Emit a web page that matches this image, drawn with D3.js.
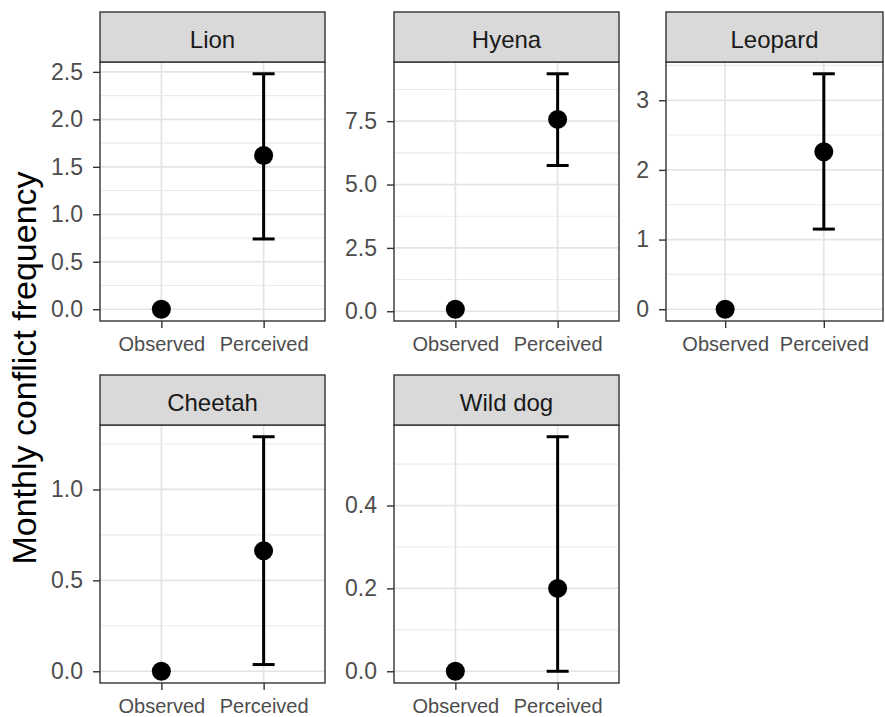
<!DOCTYPE html>
<html>
<head>
<meta charset="utf-8">
<script src="https://cdn.jsdelivr.net/npm/d3@7"></script>
<style>
  html, body { margin: 0; padding: 0; background: #fff; }
  svg { display: block; font-family: "Liberation Sans", Arial, Helvetica, sans-serif; }
</style>
</head>
<body>
<svg id="chart" width="885" height="717"></svg>
<script>
// ---- data ----
const panels = ["Lion", "Hyena", "Leopard", "Cheetah", "Wild dog"];
const categories = ["Observed", "Perceived"];
const observedValues = [0, 0.08, 0, 0, 0];
const perceivedValues = [1.62, 7.57, 2.26, 0.663, 0.2];
const perceivedLower = [0.74, 5.75, 1.15, 0.037, 0];
const perceivedUpper = [2.48, 9.37, 3.38, 1.29, 0.566];
const yTickValues = [
  [0, 0.5, 1, 1.5, 2, 2.5],
  [0, 2.5, 5, 7.5],
  [0, 1, 2, 3],
  [0, 0.5, 1],
  [0, 0.2, 0.4]
];
const yTickFormats = [".1f", ".1f", "d", ".1f", ".1f"];
const yTitle = "Monthly conflict frequency";

// ---- layout ----
const colLeft = [100, 394, 666];
const colWidth = [225, 225, 217];
const rowStripTop = [12, 375];
const stripH = 50;
const rowPanelBottom = [321, 683];

const svg = d3.select("#chart");

panels.forEach((name, i) => {
  const col = i % 3, row = Math.floor(i / 3);
  const x0 = colLeft[col], w = colWidth[col];
  const sTop = rowStripTop[row];
  const pTop = sTop + stripH;
  const pBot = rowPanelBottom[row];

  const rows = [
    { cat: categories[0], v: observedValues[i], lo: null, hi: null },
    { cat: categories[1], v: perceivedValues[i], lo: perceivedLower[i], hi: perceivedUpper[i] }
  ];
  const allVals = [observedValues[i], perceivedValues[i], perceivedLower[i], perceivedUpper[i]];
  const mn = d3.min(allVals), mx = d3.max(allVals);
  const pad = (mx - mn) * 0.05;

  const x = d3.scalePoint().domain(categories).range([x0, x0 + w]).padding(0.6);
  const y = d3.scaleLinear().domain([mn - pad, mx + pad]).range([pBot, pTop]);

  const g = svg.append("g");

  g.append("rect").attr("x", x0).attr("y", pTop).attr("width", w).attr("height", pBot - pTop)
    .attr("fill", "#fff");

  // minor grid
  const majors = yTickValues[i];
  const step = majors[1] - majors[0];
  const [d0, d1] = y.domain();
  const minors = [];
  for (let k = Math.floor(d0 / step) - 1; k <= Math.ceil(d1 / step) + 1; k++) {
    const mv = majors[0] + (k + 0.5) * step;
    if (mv >= d0 && mv <= d1) minors.push(mv);
  }
  g.selectAll(".minor").data(minors).join("line")
    .attr("x1", x0).attr("x2", x0 + w)
    .attr("y1", d => y(d)).attr("y2", d => y(d))
    .attr("stroke", "#ebebeb").attr("stroke-width", 1.1);

  // major grid
  g.selectAll(".majory").data(majors).join("line")
    .attr("x1", x0).attr("x2", x0 + w)
    .attr("y1", d => y(d)).attr("y2", d => y(d))
    .attr("stroke", "#e4e4e4").attr("stroke-width", 1.7);
  g.selectAll(".majorx").data(categories).join("line")
    .attr("x1", d => x(d)).attr("x2", d => x(d))
    .attr("y1", pTop).attr("y2", pBot)
    .attr("stroke", "#e4e4e4").attr("stroke-width", 1.7);

  // error bars
  const eb = rows.filter(r => r.lo !== null);
  const capHalf = 11;
  eb.forEach(r => {
    g.append("line").attr("x1", x(r.cat)).attr("x2", x(r.cat))
      .attr("y1", y(r.lo)).attr("y2", y(r.hi))
      .attr("stroke", "#000").attr("stroke-width", 3);
    [r.lo, r.hi].forEach(v => {
      g.append("line").attr("x1", x(r.cat) - capHalf).attr("x2", x(r.cat) + capHalf)
        .attr("y1", y(v)).attr("y2", y(v))
        .attr("stroke", "#000").attr("stroke-width", 3);
    });
  });

  // points
  g.selectAll(".pt").data(rows).join("circle")
    .attr("cx", d => x(d.cat)).attr("cy", d => y(d.v)).attr("r", 9.5)
    .attr("fill", "#000");

  // panel border
  g.append("rect").attr("x", x0).attr("y", pTop).attr("width", w).attr("height", pBot - pTop)
    .attr("fill", "none").attr("stroke", "#333").attr("stroke-width", 1.4);

  // strip
  g.append("rect").attr("x", x0).attr("y", sTop).attr("width", w).attr("height", stripH)
    .attr("fill", "#d9d9d9").attr("stroke", "#333").attr("stroke-width", 1.4);
  g.append("text").attr("x", x0 + w / 2).attr("y", sTop + 36)
    .attr("text-anchor", "middle").attr("font-size", 24).attr("fill", "#1a1a1a")
    .text(name);

  // y axis
  const ya = g.append("g").attr("transform", `translate(${x0},0)`)
    .call(d3.axisLeft(y).tickValues(majors).tickFormat(d3.format(yTickFormats[i]))
      .tickSize(7).tickPadding(10));
  ya.select(".domain").remove();
  ya.selectAll(".tick line").attr("stroke", "#333").attr("stroke-width", 1.4);
  ya.selectAll(".tick text").attr("font-size", 23).attr("fill", "#4d4d4d")
    .attr("font-family", "Liberation Sans, Arial, sans-serif");

  // x axis
  const xa = g.append("g").attr("transform", `translate(0,${pBot})`)
    .call(d3.axisBottom(x).tickSize(7).tickPadding(9));
  xa.select(".domain").remove();
  xa.selectAll(".tick line").attr("stroke", "#333").attr("stroke-width", 1.4);
  xa.selectAll(".tick text").attr("font-size", 20).attr("fill", "#4d4d4d")
    .attr("font-family", "Liberation Sans, Arial, sans-serif");
});

// y title
svg.append("text")
  .attr("transform", "translate(36,368) rotate(-90)")
  .attr("text-anchor", "middle").attr("font-size", 34).attr("fill", "#000")
  .text(yTitle);
</script>
</body>
</html>
